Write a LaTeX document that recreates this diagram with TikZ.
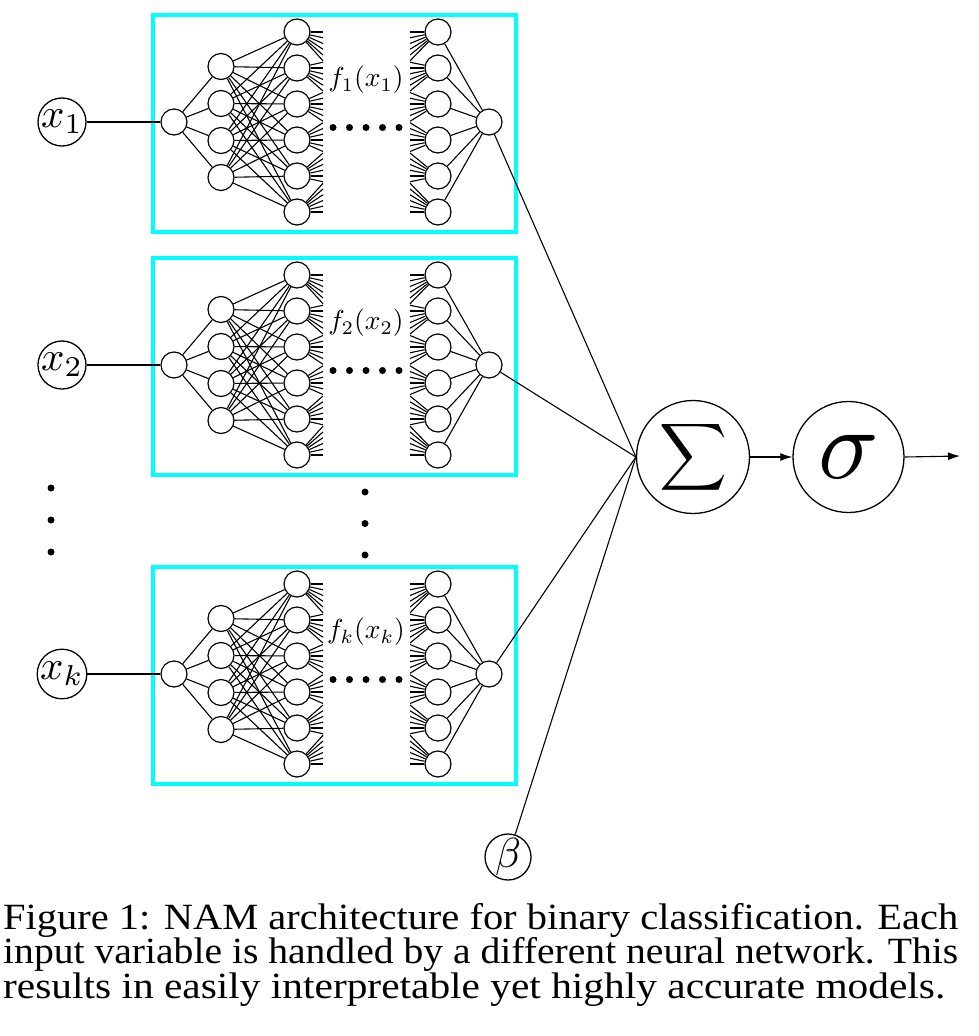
\documentclass[tikz,border=0pt]{standalone}
\usepackage{fontspec}
\usepackage{graphicx}
\usetikzlibrary{arrows.meta}
\newfontfamily\capfont{Liberation Serif}
\definecolor{boxcyan}{RGB}{0,255,255}
\tikzset{
  neuron/.style={circle, draw, line width=1.2pt, minimum size=26pt, inner sep=0pt, fill=white},
  edge/.style={line width=1.1pt},
  blockbox/.style={draw=boxcyan, line width=3.5pt, inner sep=0pt},
  bigc/.style={circle, draw, line width=1.3pt, inner sep=0pt},
  xin/.style={bigc, minimum size=46pt},
  flabel/.style={inner sep=0pt},
  dotmark/.style={circle, fill=black, inner sep=0pt, minimum size=7pt},
  capline/.style={anchor=base west, inner sep=0pt},
  arr/.style={edge, -{Latex[length=12pt,width=8pt]}},
}
\newcommand{\captext}[1]{\capfont\fontsize{37pt}{40pt}\selectfont #1}
\begin{document}
\begin{tikzpicture}[x=1pt,y=-1pt]
\useasboundingbox (0,0) rectangle (978,1036);
% summation, sigmoid, bias
\node[bigc, minimum size=113pt] (sum) at (693,457) {\scalebox{4.7}{$\displaystyle\sum$}};
\node[bigc, minimum size=111pt] (sig) at (848.5,457) {\scalebox{10}{$\sigma$}};
\node[bigc, minimum size=46pt] (beta) at (508,857) {\scalebox{4.2}{$\beta$}};
\coordinate (outend) at (960,456);
\draw[arr] (sum) -- (sig);
\draw[arr] (sig.east) -- (outend);
\draw[edge] (beta) -- (sum.west);
% blocks
\foreach \b/\yz/\s in {a/122/1,b/365/2,c/674/k}{
  \node[blockbox, minimum width=363pt, minimum height=217pt] (\b-box) at (334.5,\yz+1.5) {};
  \node[xin] (\b-x) at (62,\yz) {\scalebox{4.1}{$x_{\s}$}};
  \node[neuron] (\b-in) at (174,\yz) {};
  \foreach \o [count=\i] in {-55.5,-18.5,18.5,55.5}
    \node[neuron] (\b-h1-\i) at (221,\yz+\o) {};
  \foreach \o [count=\i] in {-90,-54,-18,18,54,90} {
    \node[neuron] (\b-h2-\i) at (297,\yz+\o) {};
    \node[neuron] (\b-r-\i) at (438,\yz+\o) {};
  }
  \node[neuron] (\b-out) at (489,\yz) {};
  \node[flabel] (\b-lab) at (366,\yz-42) {\scalebox{2.75}{$f_{\s}(x_{\s})$}};
  \foreach \d [count=\n] in {333,349.5,366,382.5,399}
    \node[dotmark] (\b-dot-\n) at (\d,\yz+5.5) {};
  \draw[edge] (\b-x) -- (\b-in);
  \foreach \i in {1,...,4} {
    \draw[edge] (\b-in) -- (\b-h1-\i);
    \foreach \j in {1,...,6}
      \draw[edge] (\b-h1-\i) -- (\b-h2-\j);
  }
  \foreach \oi [count=\i] in {-90,-54,-18,18,54,90} {
    \draw[edge] (\b-r-\i) -- (\b-out);
    \foreach \oj [count=\j] in {-90,-54,-18,18,54,90} {
      \pgfmathsetmacro\ya{\yz+\oi+(\oj-\oi)*0.16}
      \coordinate (\b-fl-\i-\j) at (323,\ya);
      \coordinate (\b-fr-\i-\j) at (410,\ya);
      \draw[edge] (\b-h2-\i) -- (\b-fl-\i-\j);
      \draw[edge] (\b-r-\i) -- (\b-fr-\i-\j);
    }
  }
  \draw[edge] (\b-out) -- (sum.west);
}
% vertical dots
\foreach \y [count=\n] in {488,520,552}
  \node[dotmark] (vdl-\n) at (51,\y) {};
\foreach \y [count=\n] in {492,523.5,555}
  \node[dotmark] (vdm-\n) at (365,\y) {};
% caption
\node[capline] (cap1) at (3,929) {\resizebox{955pt}{\height}{\captext{Figure 1: NAM architecture for binary classification. Each}}};
\node[capline] (cap2) at (3,963.5) {\resizebox{955pt}{\height}{\captext{input variable is handled by a different neural network. This}}};
\node[capline] (cap3) at (3,998) {\resizebox{942pt}{\height}{\captext{results in easily interpretable yet highly accurate models.}}};
\end{tikzpicture}
\end{document}
